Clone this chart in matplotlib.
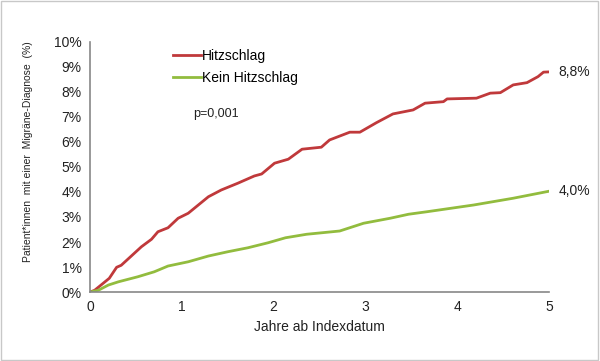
import matplotlib
matplotlib.use("Agg")
import matplotlib.pyplot as plt
from matplotlib.patches import Rectangle

plt.rcParams['font.family'] = ['Liberation Sans', 'DejaVu Sans']

# Data (years, cumulative incidence %)
years_hitz = [0.0, 0.05, 0.12, 0.21, 0.29, 0.34, 0.45, 0.56, 0.67, 0.74, 0.85, 0.96, 1.07,
              1.18, 1.29, 1.43, 1.61, 1.79, 1.87, 2.01, 2.16, 2.31, 2.52, 2.61, 2.83, 2.94,
              3.12, 3.30, 3.52, 3.65, 3.85, 3.89, 4.21, 4.36, 4.47, 4.61, 4.76, 4.88, 4.94, 5.0]
inc_hitz = [0.0, 0.07, 0.28, 0.55, 0.99, 1.07, 1.44, 1.81, 2.11, 2.41, 2.57, 2.95, 3.15,
            3.48, 3.81, 4.08, 4.35, 4.64, 4.72, 5.15, 5.31, 5.71, 5.79, 6.08, 6.39, 6.39,
            6.77, 7.12, 7.28, 7.55, 7.61, 7.72, 7.75, 7.95, 7.97, 8.28, 8.37, 8.61, 8.79, 8.8]

years_kein = [0.0, 0.09, 0.2, 0.31, 0.52, 0.70, 0.85, 1.07, 1.29, 1.50, 1.72, 1.94, 2.13,
              2.36, 2.72, 2.98, 3.27, 3.47, 3.67, 4.18, 4.61, 5.0]
inc_kein = [0.0, 0.07, 0.28, 0.41, 0.61, 0.81, 1.04, 1.21, 1.44, 1.61, 1.77, 1.97, 2.17,
            2.31, 2.44, 2.75, 2.95, 3.11, 3.21, 3.48, 3.75, 4.03]

label_hitz = "Hitzschlag"
label_kein = "Kein Hitzschlag"
end_hitz = "8,8%"
end_kein = "4,0%"
p_text = "p=0,001"
x_ticks = [0, 1, 2, 3, 4, 5]
y_ticks = list(range(0, 11))
y_ticklabels = [f"{v}%" for v in y_ticks]

red = '#C0393B'
green = '#92BC3E'

fig = plt.figure(figsize=(6.0, 3.61), dpi=100)
ax = fig.add_axes([0.15, 0.191, 0.765, 0.693])

ax.plot(years_hitz, inc_hitz, color=red, lw=2.0, label=label_hitz)
ax.plot(years_kein, inc_kein, color=green, lw=2.0, label=label_kein)

ax.set_xlim(0, 5)
ax.set_ylim(0, 10)
ax.set_xticks(x_ticks)
ax.set_yticks(y_ticks)
ax.set_yticklabels(y_ticklabels)
ax.tick_params(length=0, labelsize=10, colors='#222222', pad=6)
for s in ['top', 'right']:
    ax.spines[s].set_visible(False)
for s in ['left', 'bottom']:
    ax.spines[s].set_color('#888888')
    ax.spines[s].set_linewidth(1.2)

ax.set_xlabel("Jahre ab Indexdatum", fontsize=10, color='#222222', labelpad=4)
ax.set_ylabel("Patient*innen  mit einer  Migräne-Diagnose  (%)", fontsize=7.5, color='#222222')
ax.yaxis.set_label_coords(-0.125, 0.56)

ax.legend(loc='upper left', bbox_to_anchor=(0.153, 1.022), frameon=False, fontsize=10,
          handlelength=2.0, handletextpad=0.1, labelspacing=0.55)
ax.text(0.225, 0.7, p_text, transform=ax.transAxes, fontsize=9, color='#222222')

ax.annotate(end_hitz, xy=(5, inc_hitz[-1]), xytext=(7, 0), textcoords='offset points',
            fontsize=10, va='center', color='#222222')
ax.annotate(end_kein, xy=(5, inc_kein[-1]), xytext=(7, 0), textcoords='offset points',
            fontsize=10, va='center', color='#222222')

fig.patches.append(Rectangle((0.002, 0.003), 0.995, 0.993, transform=fig.transFigure,
                             fill=False, edgecolor='#C8C8C8', lw=1.0))

fig.savefig("out.png", dpi=100)
